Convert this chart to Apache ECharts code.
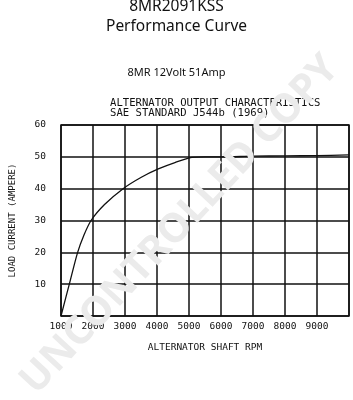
<!DOCTYPE html>
<html><head><meta charset="utf-8">
<script src="https://cdn.jsdelivr.net/npm/echarts@6/dist/echarts.min.js"></script>
<style>html,body{margin:0;padding:0;background:#fff}#c{width:353px;height:400px}</style>
</head><body><div id="c"></div>
<script>
const rpm     = [1000, 1260, 1520, 1700, 1940, 2360, 2940, 3510, 4040, 4560, 5090, 5500, 6000, 7000, 8000, 9000, 10000];
const current = [0,    10,   20,   25,   30,   35,   40,   43.6, 46.2, 48.2, 49.8, 50,   50,   50.2, 50.3, 50.4, 50.6];
const xTicks = [1000, 2000, 3000, 4000, 5000, 6000, 7000, 8000, 9000];
const yTicks = [10, 20, 30, 40, 50, 60];

const mono = 'DejaVu Sans Mono';
const chart = echarts.init(document.getElementById('c'), null, {renderer: 'canvas'});
chart.setOption({
  animation: false,
  backgroundColor: '#fff',
  grid: {left: 61, right: 4, top: 125, bottom: 84, show: true, borderColor: '#111', borderWidth: 1.5},
  xAxis: {
    type: 'value', min: 1000, max: 10000, interval: 1000,
    name: 'ALTERNATOR SHAFT RPM', nameLocation: 'middle', nameGap: 27,
    nameTextStyle: {fontFamily: mono, fontSize: 9.5, color: '#111'},
    axisLine: {show: false}, axisTick: {show: false},
    axisLabel: {fontFamily: mono, fontSize: 9.5, color: '#111', margin: 6,
      formatter: v => xTicks.includes(v) ? String(v) : ''},
    splitLine: {show: true, lineStyle: {color: '#111', width: 1.5}}
  },
  yAxis: {
    type: 'value', min: 0, max: 60, interval: 10,
    name: 'LOAD CURRENT (AMPERE)', nameLocation: 'middle', nameGap: 44, nameRotate: 90,
    nameTextStyle: {fontFamily: mono, fontSize: 9, color: '#111'},
    axisLine: {show: false}, axisTick: {show: false},
    axisLabel: {fontFamily: mono, fontSize: 9.5, color: '#111', margin: 15,
      formatter: v => yTicks.includes(v) ? String(v) : ''},
    splitLine: {show: true, lineStyle: {color: '#111', width: 1.5}}
  },
  series: [{
    type: 'line', data: rpm.map((r, i) => [r, current[i]]),
    smooth: 0.3, showSymbol: false, lineStyle: {color: '#111', width: 1.3}
  }],
  graphic: [
    {type: 'text', left: 'center', top: -1, style: {text: '8MR2091KSS', font: '15.5px "Noto Sans"', fill: '#111'}},
    {type: 'text', left: 'center', top: 19, style: {text: 'Performance Curve', font: '15.5px "Noto Sans"', fill: '#111'}},
    {type: 'text', left: 'center', top: 67, style: {text: '8MR 12Volt 51Amp', font: '11px "Noto Sans"', fill: '#111'}},
    {type: 'text', left: 110, top: 98, style: {text: 'ALTERNATOR OUTPUT CHARACTERISTICS\nSAE STANDARD J544b (1969)', font: '10.6px "DejaVu Sans Mono"', lineHeight: 10, fill: '#111'}},
    {type: 'text', x: 180, y: 225, rotation: Math.PI * 47 / 180, z: 100,
      style: {text: 'UNCONTROLLED COPY', font: 'bold 40px "Noto Sans"', fill: '#ebebeb', align: 'center', verticalAlign: 'middle'}}
  ]
});
</script></body></html>
